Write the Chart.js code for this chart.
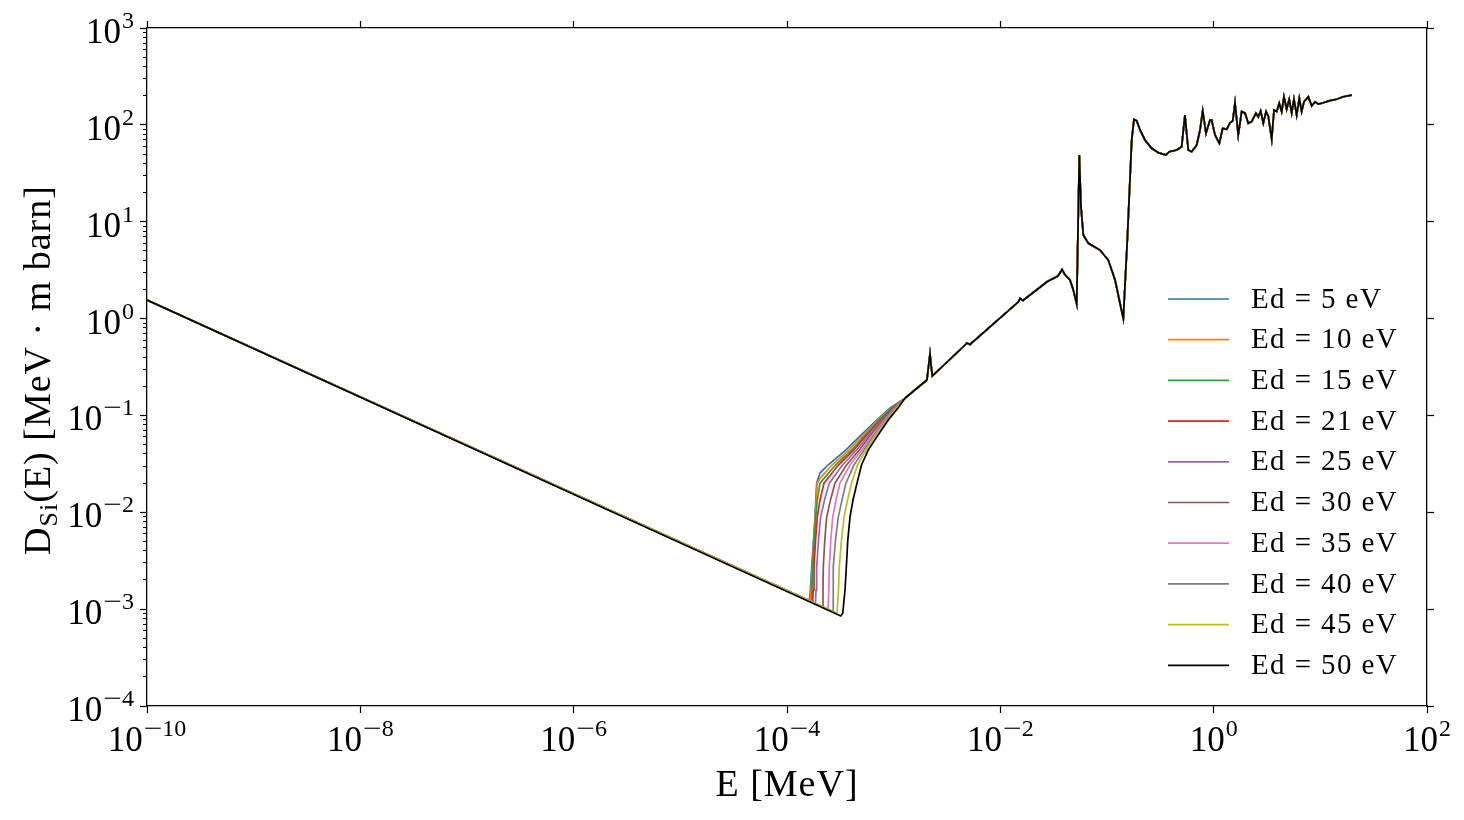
<!DOCTYPE html>
<html>
<head>
<meta charset="utf-8">
<script src="https://cdn.jsdelivr.net/npm/chart.js@4.4.1/dist/chart.umd.min.js"></script>
<style>
  html, body { margin: 0; padding: 0; background: #fff; }
  #wrap { width: 1464px; height: 820px; }
</style>
</head>
<body>
<div id="wrap"><canvas id="chart" width="1464" height="820"></canvas></div>
<script>
/* ---------------------------------------------
   Displacement damage D_Si(E) vs neutron energy
   --------------------------------------------- */

// --- Axis ticks (powers of ten) ---
const xTickExps = [-10, -8, -6, -4, -2, 0, 2];
const yTickExps = [-4, -3, -2, -1, 0, 1, 2, 3];
const yMinorMult = [2, 3, 4, 5, 6, 7, 8, 9];

// --- Series labels / colours ---
const edValues = [5, 10, 15, 21, 25, 30, 35, 40, 45, 50];
const edColors = ['#1f77b4', '#ff7f0e', '#2ca02c', '#d62728', '#9467bd',
                  '#8c564b', '#e377c2', '#7f7f7f', '#bcbd22', '#000000'];

// --- Shared first point (E in MeV, D in MeV·mb) ---
const startE = 1e-10;
const startD = 1.555;

// --- Threshold region, one pair of arrays per Ed ---
const ed5E  = [1.62e-4, 1.657e-4, 1.705e-4, 1.772e-4, 1.83e-4, 1.862e-4, 1.898e-4, 2.039e-4, 2.423e-4, 3.57e-4, 4.94e-4, 6.93e-4, 9.239e-4];
const ed5D  = [1.22e-3, 1.575e-3, 2.72e-3, 5.17e-3, 8.93e-3, 1.338e-2, 2.00e-2, 2.54e-2, 3.076e-2, 4.40e-2, 6.276e-2, 8.97e-2, 0.1193];
const ed10E = [1.654e-4, 1.686e-4, 1.727e-4, 1.791e-4, 1.842e-4, 1.882e-4, 1.923e-4, 2.083e-4, 2.642e-4, 3.813e-4, 5.214e-4, 7.129e-4, 9.441e-4];
const ed10D = [1.21e-3, 1.575e-3, 2.72e-3, 5.17e-3, 8.93e-3, 1.338e-2, 2.00e-2, 2.31e-2, 3.076e-2, 4.40e-2, 6.276e-2, 8.97e-2, 0.1193];
const ed15E = [1.69e-4, 1.712e-4, 1.741e-4, 1.803e-4, 1.858e-4, 1.923e-4, 2.039e-4, 2.849e-4, 4.042e-4, 5.444e-4, 7.332e-4, 9.605e-4];
const ed15D = [1.20e-3, 1.575e-3, 2.72e-3, 5.17e-3, 8.93e-3, 1.338e-2, 2.00e-2, 3.076e-2, 4.40e-2, 6.276e-2, 8.97e-2, 0.1193];
const ed21E = [1.741e-4, 1.761e-4, 1.791e-4, 1.854e-4, 1.923e-4, 2.039e-4, 2.222e-4, 3.039e-4, 4.247e-4, 5.563e-4, 7.556e-4, 9.772e-4];
const ed21D = [1.18e-3, 1.575e-3, 2.72e-3, 5.17e-3, 8.93e-3, 1.338e-2, 2.00e-2, 3.076e-2, 4.40e-2, 6.276e-2, 8.97e-2, 0.1193];
const ed25E = [1.85e-4, 1.871e-4, 1.898e-4, 1.974e-4, 2.069e-4, 2.247e-4, 2.492e-4, 3.314e-4, 4.501e-4, 5.809e-4, 7.772e-4, 9.943e-4];
const ed25D = [1.14e-3, 1.575e-3, 2.72e-3, 5.17e-3, 8.93e-3, 1.338e-2, 2.00e-2, 3.076e-2, 4.40e-2, 6.276e-2, 8.97e-2, 0.1193];
const ed30E = [2.161e-4, 2.175e-4, 2.189e-4, 2.261e-4, 2.355e-4, 2.557e-4, 2.818e-4, 3.612e-4, 4.762e-4, 6.065e-4, 7.993e-4, 1.0116e-3];
const ed30D = [1.06e-3, 1.575e-3, 2.72e-3, 5.17e-3, 8.93e-3, 1.338e-2, 2.00e-2, 3.076e-2, 4.40e-2, 6.276e-2, 8.97e-2, 0.1193];
const ed35E = [2.423e-4, 2.465e-4, 2.492e-4, 2.574e-4, 2.682e-4, 2.880e-4, 3.139e-4, 3.896e-4, 5.015e-4, 6.291e-4, 8.238e-4, 1.0292e-3];
const ed35D = [9.98e-4, 1.575e-3, 2.72e-3, 5.17e-3, 8.93e-3, 1.338e-2, 2.00e-2, 3.076e-2, 4.40e-2, 6.276e-2, 8.97e-2, 0.1193];
const ed40E = [2.70e-4, 2.711e-4, 2.717e-4, 2.849e-4, 3.026e-4, 3.278e-4, 3.573e-4, 4.248e-4, 5.27e-4, 6.541e-4, 8.472e-4, 1.0471e-3];
const ed40D = [9.47e-4, 1.575e-3, 2.72e-3, 5.17e-3, 8.93e-3, 1.338e-2, 2.00e-2, 3.076e-2, 4.40e-2, 6.276e-2, 8.97e-2, 0.1193];
const ed45E = [2.943e-4, 3.039e-4, 3.092e-4, 3.243e-4, 3.423e-4, 3.692e-4, 4.024e-4, 4.581e-4, 5.502e-4, 6.756e-4, 8.66e-4, 1.063e-3];
const ed45D = [9.06e-4, 1.575e-3, 2.72e-3, 5.17e-3, 8.93e-3, 1.338e-2, 2.00e-2, 3.076e-2, 4.40e-2, 6.276e-2, 8.97e-2, 0.1193];
const ed50E = [3.19e-4, 3.33e-4, 3.499e-4, 3.6e-4, 3.715e-4, 3.896e-4, 4.157e-4, 4.531e-4, 4.994e-4, 5.783e-4, 7.13e-4, 8.906e-4, 1.0981e-3];
const ed50D = [8.5e-4, 9.06e-4, 1.575e-3, 2.72e-3, 5.17e-3, 8.93e-3, 1.338e-2, 2.00e-2, 3.076e-2, 4.40e-2, 6.276e-2, 8.97e-2, 0.1193];

// --- Common curve above ~1 keV (all Ed coincide) ---
const commonE = [1.28e-3, 2.05e-3, 2.19e-3, 2.30e-3, 4.67e-3, 4.84e-3, 5.2e-3, 1.47e-2, 1.53e-2, 1.63e-2,
                 2.74e-2, 3.47e-2, 3.79e-2, 4.04e-2, 4.50e-2, 4.83e-2, 5.20e-2, 5.50e-2, 5.70e-2, 6.0e-2,
                 6.69e-2, 8.59e-2, 0.1028, 0.119, 0.1324, 0.1422, 0.155, 0.1705, 0.179, 0.190,
                 0.204, 0.227, 0.262, 0.303, 0.357, 0.384, 0.450, 0.501, 0.538, 0.578,
                 0.622, 0.693, 0.745, 0.789, 0.847, 0.924, 0.957, 1.029, 1.13, 1.216,
                 1.325, 1.42, 1.51, 1.585, 1.70, 1.83, 1.97, 2.11, 2.27, 2.49,
                 2.62, 2.76, 2.92, 3.10, 3.25, 3.50, 3.68, 3.90, 4.12, 4.34,
                 4.56, 4.83, 5.11, 5.39, 5.66, 6.0, 6.35, 6.68, 7.03, 7.71,
                 8.30, 8.91, 9.57, 10.7, 12.3, 14.2, 16.4, 19.7];
const commonD = [0.151, 0.232, 0.43, 0.255, 0.533, 0.56, 0.54, 1.48, 1.61, 1.54,
                 2.40, 2.75, 3.22, 2.82, 2.50, 1.97, 1.41, 48.8, 14.3, 7.29,
                 5.98, 5.10, 4.02, 2.50, 1.44, 1.0, 6.47, 69.8, 114, 110,
                 88.5, 69.8, 57.3, 51.6, 48.9, 52.8, 55, 59.5, 126, 55,
                 52.8, 61.9, 88.5, 140, 81.8, 112, 112, 78.6, 64.5, 92.1,
                 90, 105, 110, 169, 78.6, 137, 132, 104, 108, 132,
                 121, 139, 104, 137, 123, 71, 142, 137, 167, 137,
                 195, 145, 184, 132, 184, 126, 188, 137, 173, 195,
                 157, 173, 164, 169, 178, 184, 195, 203];

const thresholdE = [ed5E, ed10E, ed15E, ed21E, ed25E, ed30E, ed35E, ed40E, ed45E, ed50E];
const thresholdD = [ed5D, ed10D, ed15D, ed21D, ed25D, ed30D, ed35D, ed40D, ed45D, ed50D];

const FONT = "'Liberation Serif', 'DejaVu Serif', serif";

function buildSeries(i) {
    const pts = [{ x: startE, y: startD }];
    thresholdE[i].forEach((e, k) => pts.push({ x: e, y: thresholdD[i][k] }));
    commonE.forEach((e, k) => pts.push({ x: e, y: commonD[k] }));
    return pts;
}

// last series (black) ends up on top, like the original plot order
const datasets = edValues.map((ed, i) => ({
    label: `Ed = ${ed} eV`,
    data: buildSeries(i),
    borderColor: edColors[i],
    backgroundColor: edColors[i],
    borderWidth: 1.7,
    pointRadius: 0,
    tension: 0,
    fill: false,
    order: edValues.length - 1 - i,
}));

// --- Helpers for fixed-size axes ---
const ticksAt = values => scale => { scale.ticks = values.map(v => ({ value: v })); };
const xMajor = xTickExps.map(e => Math.pow(10, e));
const yMajor = yTickExps.map(e => Math.pow(10, e));
const yMinor = yTickExps.slice(0, -1).flatMap(e => yMinorMult.map(m => m * Math.pow(10, e)));

function frameAxis(extra) {
    return Object.assign({
        type: 'logarithmic',
        ticks: { display: false },
        grid: { drawOnChartArea: false, drawTicks: true, tickLength: 7, tickColor: '#000', tickWidth: 1.2 },
        border: { display: true, color: '#000', width: 1.3 },
    }, extra);
}

// --- "10^n" label drawer (wide TeX-like minus) ---
const BASE_PX = 35, SUP_PX = 24;
function drawPow(ctx, x, y, exp, align) {
    const digits = String(Math.abs(exp));
    const minusW = exp < 0 ? SUP_PX * 0.78 : 0;
    ctx.font = `${BASE_PX}px ${FONT}`;
    const w1 = ctx.measureText('10').width;
    ctx.font = `${SUP_PX}px ${FONT}`;
    const w2 = minusW + ctx.measureText(digits).width;
    const total = w1 + 1 + w2;
    const x0 = align === 'right' ? x - total : x - total / 2;
    ctx.textAlign = 'left';
    ctx.textBaseline = 'alphabetic';
    ctx.font = `${BASE_PX}px ${FONT}`;
    ctx.fillText('10', x0, y);
    ctx.font = `${SUP_PX}px ${FONT}`;
    let sx = x0 + w1 + 1;
    if (exp < 0) {
        const mw = ctx.measureText('\u2212').width;
        ctx.save();
        ctx.translate(sx, y - 15);
        ctx.scale(minusW / mw, 1);
        ctx.fillText('\u2212', 0, 0);
        ctx.restore();
        sx += minusW;
    }
    ctx.fillText(digits, sx, y - 15);
}

const labelPlugin = {
    id: 'labels',
    afterDraw(chart) {
        const ctx = chart.ctx;
        const xs = chart.scales.x;
        const ys = chart.scales.y;
        const area = chart.chartArea;
        ctx.save();
        ctx.fillStyle = '#000';

        // tick labels
        xTickExps.forEach(e => drawPow(ctx, xs.getPixelForValue(Math.pow(10, e)), area.bottom + 45, e, 'center'));
        yTickExps.forEach(e => drawPow(ctx, area.left - 13, ys.getPixelForValue(Math.pow(10, e)) + 15, e, 'right'));

        // x title
        ctx.font = `38px ${FONT}`;
        ctx.letterSpacing = '1px';
        ctx.textAlign = 'center';
        ctx.textBaseline = 'alphabetic';
        ctx.fillText('E [MeV]', (area.left + area.right) / 2, 796);

        // y title, rotated, with subscript
        ctx.translate(50, 370);
        ctx.rotate(-Math.PI / 2);
        const p1 = 'D', p2 = 'Si', p3 = '(E) [MeV \u00b7 m barn]';
        ctx.font = `38px ${FONT}`;
        const w1 = ctx.measureText(p1).width, w3 = ctx.measureText(p3).width;
        ctx.font = `26px ${FONT}`;
        const w2 = ctx.measureText(p2).width;
        let cx = -(w1 + w2 + w3) / 2;
        ctx.textAlign = 'left';
        ctx.font = `38px ${FONT}`;
        ctx.fillText(p1, cx, 0); cx += w1;
        ctx.font = `26px ${FONT}`;
        ctx.fillText(p2, cx, 7); cx += w2;
        ctx.font = `38px ${FONT}`;
        ctx.fillText(p3, cx, 0);
        ctx.restore();

        // legend inside the axes
        ctx.save();
        ctx.font = `29px ${FONT}`;
        ctx.letterSpacing = '1.4px';
        ctx.textAlign = 'left';
        ctx.textBaseline = 'middle';
        chart.data.datasets.forEach((ds, i) => {
            const y = area.top + 271 + i * 40.7;
            ctx.strokeStyle = ds.borderColor;
            ctx.lineWidth = 1.7;
            ctx.beginPath();
            ctx.moveTo(area.right - 259, y);
            ctx.lineTo(area.right - 198, y);
            ctx.stroke();
            ctx.fillStyle = '#000';
            ctx.fillText(ds.label, area.right - 176, y + 1);
        });
        ctx.restore();
    }
};

new Chart(document.getElementById('chart').getContext('2d'), {
    type: 'line',
    data: { datasets },
    options: {
        responsive: false,
        animation: false,
        layout: { padding: 0 },
        plugins: { legend: { display: false }, tooltip: { enabled: false } },
        scales: {
            x: frameAxis({
                position: 'bottom', min: 1e-10, max: 1e2,
                afterBuildTicks: ticksAt(xMajor),
                afterFit: s => { s.height = 114; },
            }),
            xTop: frameAxis({
                position: 'top', min: 1e-10, max: 1e2,
                afterBuildTicks: ticksAt(xMajor),
                afterFit: s => { s.height = 28; },
            }),
            y: frameAxis({
                position: 'left', min: 1e-4, max: 1e3, weight: 1,
                afterBuildTicks: ticksAt(yMajor),
                afterFit: s => { s.width = 147; },
            }),
            yMinor: frameAxis({
                position: 'left', min: 1e-4, max: 1e3, weight: 0,
                afterBuildTicks: ticksAt(yMinor),
                grid: { drawOnChartArea: false, drawTicks: true, tickLength: 4, tickColor: '#000', tickWidth: 1 },
                border: { display: false },
                afterFit: s => { s.width = 0; },
            }),
            yRight: frameAxis({
                position: 'right', min: 1e-4, max: 1e3,
                afterBuildTicks: ticksAt(yMajor),
                afterFit: s => { s.width = 37; },
            }),
        }
    },
    plugins: [labelPlugin]
});
</script>
</body>
</html>
